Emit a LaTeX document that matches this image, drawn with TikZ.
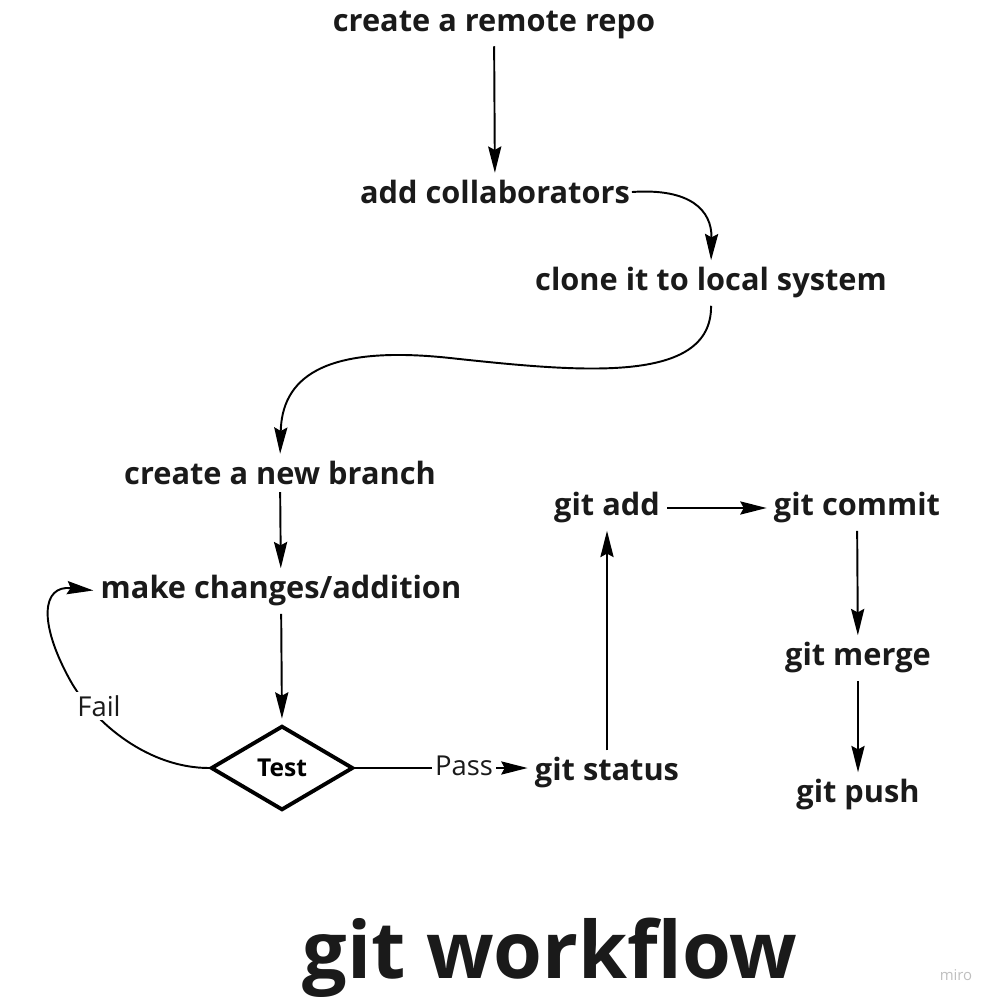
\documentclass[tikz,border=0pt]{standalone}
\usepackage{fontspec}
\setmainfont{Open Sans}
\usetikzlibrary{shapes.geometric,arrows.meta}
\definecolor{ink}{RGB}{26,26,26}
\tikzset{stage/.style={text=ink,font=\fontsize{17.5}{20}\selectfont\bfseries,inner sep=1pt},
         flow/.style={draw=black,line width=1.1pt,shorten <=3pt,shorten >=3pt,
                      -{Stealth[length=15pt,width=7.5pt,inset=2pt]}},
         verdict/.style={fill=white,text=ink,font=\fontsize{15.6}{18}\selectfont,inner sep=2pt},
         gate/.style={diamond,draw=black,line width=2.2pt,minimum width=81pt,minimum height=48pt,
                      inner sep=0pt,text=black,font=\fontsize{14}{16}\selectfont\bfseries}
}
\begin{document}
\begin{tikzpicture}[x=0.02cm,y=-0.02cm]
\useasboundingbox (0,0) rectangle (995,1004);

\node[stage] (remote) at (494,25) {create a remote repo};
\node[stage] (collab) at (495,192) {add collaborators};
\node[stage] (clone) at (711,283) {clone it to local system};
\node[stage] (branch) at (280,473) {create a new branch};
\node[stage] (changes) at (281,591) {make changes/addition};
\node[gate] (test) at (282,768) {Test};

\node[stage] (status) at (607,773) {git status};
\node[stage] (add) at (607,508) {git add};
\node[stage] (commit) at (857,508) {git commit};
\node[stage] (merge) at (858,658) {git merge};
\node[stage] (push) at (858,795) {git push};

\draw[flow] (remote) -- (collab);
\draw[flow,shorten <=0pt] (collab.east) .. controls (690,188) and (712,210) .. (clone.north);
\draw[flow] (clone.south) .. controls (712,385) and (580,372) .. (450,358)
                          .. controls (320,344) and (282,380) .. (branch.north);
\draw[flow] (branch) -- (changes);
\draw[flow] (changes) -- (test.north);

% fail goes back, pass goes on
\draw[flow,shorten <=0pt] (test.west) .. controls (150,768) and (95,725) .. (70,680)
                          .. controls (38,622) and (42,585) .. (changes.west);
\node[verdict] (fail) at (99,706) {Fail};
\draw[flow,shorten <=0pt] (test.east) -- (test.east -| status.west);
\node[verdict] (pass) at (464,766) {Pass};

\draw[flow] (status) -- (add);
\draw[flow] (add) -- (commit);
\draw[flow] (commit) -- (merge);
\draw[flow] (merge) -- (push);

\node[text=ink,font=\fontsize{45}{50}\selectfont\bfseries] (title) at (550,958) {git workflow};
\node[text=black!25,font=\fontsize{8.5}{10}\selectfont] (miro) at (956,975) {miro};
\end{tikzpicture}
\end{document}
